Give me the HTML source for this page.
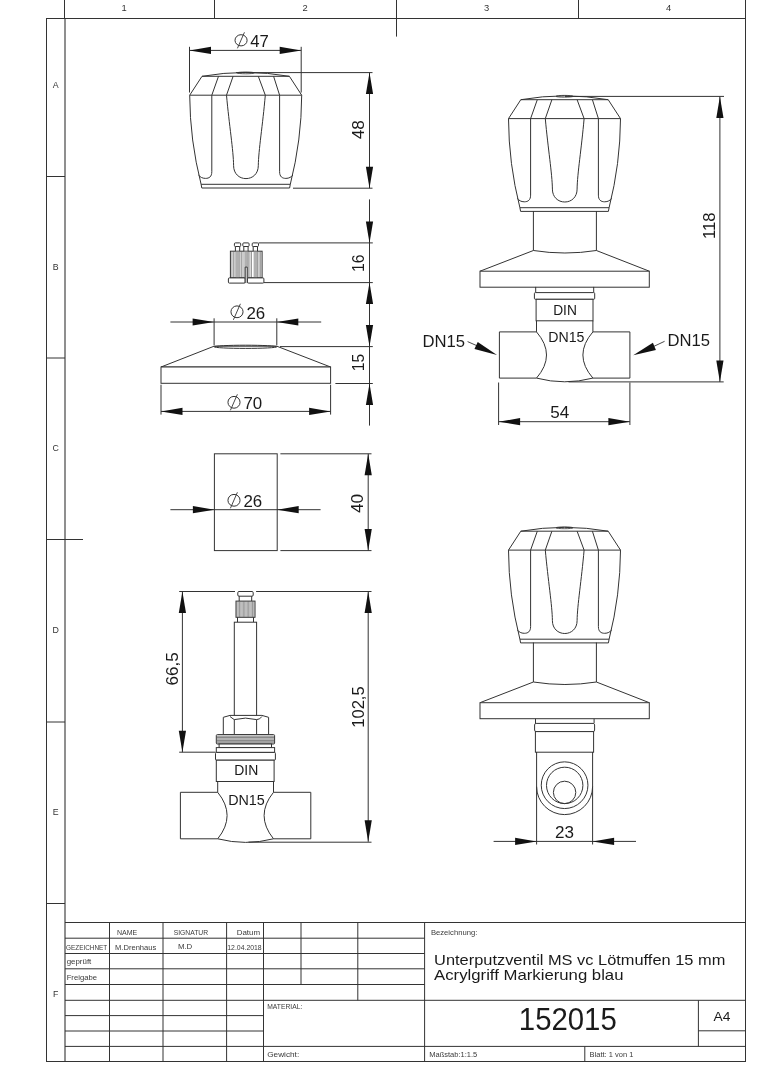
<!DOCTYPE html>
<html><head><meta charset="utf-8"><style>
html,body{margin:0;padding:0;background:#fff;}
svg{display:block;will-change:transform;}
text{font-family:"Liberation Sans",sans-serif;fill:#1a1a1a;stroke:none;}
text.tb{fill:#3a3a3a;}
text.s{fill:#333;}
</style></head><body>
<svg width="764" height="1080" viewBox="0 0 764 1080">
<g fill="none" stroke="#333" stroke-width="1">
<line x1="46.50" y1="18.00" x2="46.50" y2="1062.00"/>
<line x1="46.00" y1="18.50" x2="746.00" y2="18.50" stroke-width="1.2"/>
<line x1="745.50" y1="0.00" x2="745.50" y2="1062.00"/>
<line x1="46.00" y1="1061.50" x2="746.00" y2="1061.50"/>
<line x1="65.00" y1="18.00" x2="65.00" y2="1062.00" stroke-width="1.1"/>
<line x1="64.50" y1="0.00" x2="64.50" y2="18.00"/>
<line x1="214.50" y1="0.00" x2="214.50" y2="18.00"/>
<line x1="396.50" y1="0.00" x2="396.50" y2="18.00"/>
<line x1="578.50" y1="0.00" x2="578.50" y2="18.00"/>
<line x1="396.50" y1="18.00" x2="396.50" y2="36.60"/>
<line x1="46.00" y1="176.50" x2="65.00" y2="176.50"/>
<line x1="46.00" y1="358.00" x2="65.00" y2="358.00"/>
<line x1="46.00" y1="539.50" x2="83.00" y2="539.50"/>
<line x1="46.00" y1="722.00" x2="65.00" y2="722.00"/>
<line x1="46.00" y1="903.50" x2="65.00" y2="903.50"/>
<text class="s" x="124.00" y="11.30" font-size="9.4" text-anchor="middle">1</text>
<text class="s" x="305.00" y="11.30" font-size="9.4" text-anchor="middle">2</text>
<text class="s" x="486.50" y="11.30" font-size="9.4" text-anchor="middle">3</text>
<text class="s" x="668.60" y="11.30" font-size="9.4" text-anchor="middle">4</text>
<text class="s" x="55.60" y="87.80" font-size="8.8" text-anchor="middle">A</text>
<text class="s" x="55.60" y="269.60" font-size="8.8" text-anchor="middle">B</text>
<text class="s" x="55.60" y="451.40" font-size="8.8" text-anchor="middle">C</text>
<text class="s" x="55.60" y="633.20" font-size="8.8" text-anchor="middle">D</text>
<text class="s" x="55.60" y="815.00" font-size="8.8" text-anchor="middle">E</text>
<text class="s" x="55.60" y="996.80" font-size="8.8" text-anchor="middle">F</text>
<line x1="65.00" y1="922.50" x2="746.00" y2="922.50"/>
<line x1="65.00" y1="938.20" x2="424.60" y2="938.20"/>
<line x1="65.00" y1="953.50" x2="424.60" y2="953.50"/>
<line x1="65.00" y1="968.80" x2="424.60" y2="968.80"/>
<line x1="65.00" y1="984.50" x2="424.60" y2="984.50"/>
<line x1="65.00" y1="1000.30" x2="746.00" y2="1000.30"/>
<line x1="65.00" y1="1015.60" x2="263.50" y2="1015.60"/>
<line x1="65.00" y1="1031.00" x2="263.50" y2="1031.00"/>
<line x1="65.00" y1="1046.40" x2="746.00" y2="1046.40"/>
<line x1="109.50" y1="922.50" x2="109.50" y2="1062.00"/>
<line x1="163.00" y1="922.50" x2="163.00" y2="1062.00"/>
<line x1="226.60" y1="922.50" x2="226.60" y2="1062.00"/>
<line x1="263.50" y1="922.50" x2="263.50" y2="1062.00"/>
<line x1="301.00" y1="922.50" x2="301.00" y2="984.50"/>
<line x1="357.80" y1="922.50" x2="357.80" y2="1000.30"/>
<line x1="424.60" y1="922.50" x2="424.60" y2="1062.00"/>
<line x1="698.40" y1="1000.30" x2="698.40" y2="1046.40"/>
<line x1="698.40" y1="1030.80" x2="746.00" y2="1030.80"/>
<line x1="584.80" y1="1046.40" x2="584.80" y2="1062.00"/>
<text class="tb" x="117.00" y="934.70" font-size="7" textLength="20.30" lengthAdjust="spacingAndGlyphs">NAME</text>
<text class="tb" x="173.70" y="934.60" font-size="7" textLength="34.40" lengthAdjust="spacingAndGlyphs">SIGNATUR</text>
<text class="tb" x="236.70" y="934.60" font-size="7" textLength="23.40" lengthAdjust="spacingAndGlyphs">Datum</text>
<text class="tb" x="66.00" y="949.70" font-size="7" textLength="41.20" lengthAdjust="spacingAndGlyphs">GEZEICHNET</text>
<text class="tb" x="115.00" y="949.70" font-size="7" textLength="41.30" lengthAdjust="spacingAndGlyphs">M.Drenhaus</text>
<text class="tb" x="177.90" y="949.40" font-size="7" textLength="14.40" lengthAdjust="spacingAndGlyphs">M.D</text>
<text class="tb" x="227.30" y="950.10" font-size="7" textLength="34.40" lengthAdjust="spacingAndGlyphs">12.04.2018</text>
<text class="tb" x="66.70" y="963.80" font-size="7" textLength="24.60" lengthAdjust="spacingAndGlyphs">geprüft</text>
<text class="tb" x="66.70" y="979.90" font-size="7" textLength="30.30" lengthAdjust="spacingAndGlyphs">Freigabe</text>
<text class="tb" x="267.20" y="1009.30" font-size="7" textLength="35.10" lengthAdjust="spacingAndGlyphs">MATERIAL:</text>
<text class="tb" x="267.20" y="1056.50" font-size="7" textLength="32.00" lengthAdjust="spacingAndGlyphs">Gewicht:</text>
<text class="tb" x="430.90" y="935.40" font-size="6.3" textLength="46.50" lengthAdjust="spacingAndGlyphs">Bezeichnung:</text>
<text class="t" x="434.10" y="965.30" font-size="14.8" textLength="291.20" lengthAdjust="spacingAndGlyphs">Unterputzventil MS vc Lötmuffen 15 mm</text>
<text class="t" x="434.10" y="979.80" font-size="14.8" textLength="189.40" lengthAdjust="spacingAndGlyphs">Acrylgriff Markierung blau</text>
<text class="t" x="518.80" y="1030.00" font-size="31" textLength="98.00" lengthAdjust="spacingAndGlyphs">152015</text>
<text class="t" x="713.60" y="1020.60" font-size="12.8" textLength="16.90" lengthAdjust="spacingAndGlyphs">A4</text>
<text class="tb" x="429.20" y="1056.60" font-size="7" textLength="48.10" lengthAdjust="spacingAndGlyphs">Maßstab:1:1.5</text>
<text class="tb" x="589.60" y="1056.60" font-size="7" textLength="43.70" lengthAdjust="spacingAndGlyphs">Blatt: 1 von 1</text>
<path d="M202.00 76.30Q245.70 68.60 289.40 76.30"/>
<line x1="202.00" y1="76.30" x2="289.40" y2="76.30"/>
<ellipse cx="245.70" cy="72.90" rx="8.5" ry="0.9" stroke-width="0.8"/>
<path d="M202.00 76.30L189.70 95.20L301.70 95.20L289.40 76.30"/>
<path d="M189.70 95.20Q189.90 140.20 201.10 184.30L290.30 184.30Q301.50 140.20 301.70 95.20"/>
<path d="M201.10 184.30L201.80 188.00L289.60 188.00L290.30 184.30"/>
<path d="M218.50 76.30L211.80 95.20L211.80 171.70C211.80 176.70 209.20 178.40 205.50 178.40C202.20 178.40 200.20 177.00 198.40 175.00"/>
<path d="M273.60 76.30L279.60 95.20L279.60 171.70C279.60 176.70 282.20 178.40 285.90 178.40C289.20 178.40 291.20 177.00 293.00 175.00"/>
<path d="M233.10 76.30L226.50 95.20C229.20 125.20 233.40 150.20 233.60 165.70C233.60 173.70 239.20 178.60 246.00 178.60C252.70 178.60 258.30 173.70 258.30 165.70C258.50 150.20 262.70 125.20 265.30 95.20L258.30 76.30"/>
<path d="M520.80 99.70Q564.50 92.00 608.20 99.70"/>
<line x1="520.80" y1="99.70" x2="608.20" y2="99.70"/>
<ellipse cx="564.50" cy="96.30" rx="8.5" ry="0.9" stroke-width="0.8"/>
<path d="M520.80 99.70L508.50 118.60L620.50 118.60L608.20 99.70"/>
<path d="M508.50 118.60Q508.70 163.60 519.90 207.70L609.10 207.70Q620.30 163.60 620.50 118.60"/>
<path d="M519.90 207.70L520.60 211.40L608.40 211.40L609.10 207.70"/>
<path d="M537.30 99.70L530.60 118.60L530.60 195.10C530.60 200.10 528.00 201.80 524.30 201.80C521.00 201.80 519.00 200.40 517.20 198.40"/>
<path d="M592.40 99.70L598.40 118.60L598.40 195.10C598.40 200.10 601.00 201.80 604.70 201.80C608.00 201.80 610.00 200.40 611.80 198.40"/>
<path d="M551.90 99.70L545.30 118.60C548.00 148.60 552.20 173.60 552.40 189.10C552.40 197.10 558.00 202.00 564.80 202.00C571.50 202.00 577.10 197.10 577.10 189.10C577.30 173.60 581.50 148.60 584.10 118.60L577.10 99.70"/>
<path d="M520.80 531.20Q564.50 523.50 608.20 531.20"/>
<line x1="520.80" y1="531.20" x2="608.20" y2="531.20"/>
<ellipse cx="564.50" cy="527.80" rx="8.5" ry="0.9" stroke-width="0.8"/>
<path d="M520.80 531.20L508.50 550.10L620.50 550.10L608.20 531.20"/>
<path d="M508.50 550.10Q508.70 595.10 519.90 639.20L609.10 639.20Q620.30 595.10 620.50 550.10"/>
<path d="M519.90 639.20L520.60 642.90L608.40 642.90L609.10 639.20"/>
<path d="M537.30 531.20L530.60 550.10L530.60 626.60C530.60 631.60 528.00 633.30 524.30 633.30C521.00 633.30 519.00 631.90 517.20 629.90"/>
<path d="M592.40 531.20L598.40 550.10L598.40 626.60C598.40 631.60 601.00 633.30 604.70 633.30C608.00 633.30 610.00 631.90 611.80 629.90"/>
<path d="M551.90 531.20L545.30 550.10C548.00 580.10 552.20 605.10 552.40 620.60C552.40 628.60 558.00 633.50 564.80 633.50C571.50 633.50 577.10 628.60 577.10 620.60C577.30 605.10 581.50 580.10 584.10 550.10L577.10 531.20"/>
<line x1="189.50" y1="46.80" x2="189.50" y2="92.50"/>
<line x1="301.20" y1="46.80" x2="301.20" y2="92.50"/>
<line x1="189.50" y1="50.40" x2="301.20" y2="50.40"/>
<path fill="#111" stroke="none" d="M189.50 50.40L211.00 46.80L211.00 54.00Z"/>
<path fill="#111" stroke="none" d="M301.20 50.40L279.70 54.00L279.70 46.80Z"/>
<ellipse cx="241.05" cy="40.30" rx="6.05" ry="5.60" class="th"/>
<line x1="244.45" y1="32.30" x2="237.45" y2="48.30" stroke-width="0.9"/>
<text class="d" x="250.30" y="46.80" font-size="17" textLength="18.60" lengthAdjust="spacingAndGlyphs">47</text>
<line x1="236.00" y1="72.60" x2="372.50" y2="72.60"/>
<line x1="293.00" y1="188.20" x2="372.50" y2="188.20"/>
<line x1="369.50" y1="72.60" x2="369.50" y2="188.20"/>
<path fill="#111" stroke="none" d="M369.50 72.60L373.10 94.10L365.90 94.10Z"/>
<path fill="#111" stroke="none" d="M369.50 188.20L365.90 166.70L373.10 166.70Z"/>
<text class="d" x="364.40" y="139.30" font-size="17" textLength="19.20" lengthAdjust="spacingAndGlyphs" transform="rotate(-90 364.40 139.30)">48</text>
<line x1="258.60" y1="242.90" x2="372.80" y2="242.90"/>
<line x1="263.90" y1="282.60" x2="372.80" y2="282.60"/>
<line x1="369.50" y1="199.40" x2="369.50" y2="425.60"/>
<path fill="#111" stroke="none" d="M369.50 242.90L365.90 221.40L373.10 221.40Z"/>
<path fill="#111" stroke="none" d="M369.50 282.60L373.10 304.10L365.90 304.10Z"/>
<text class="d" x="364.40" y="272.00" font-size="17" textLength="17.50" lengthAdjust="spacingAndGlyphs" transform="rotate(-90 364.40 272.00)">16</text>
<rect x="234.40" y="242.90" width="6.30" height="3.60" fill="#fff" rx="1"/>
<line x1="235.40" y1="246.50" x2="235.40" y2="251.20"/>
<line x1="239.70" y1="246.50" x2="239.70" y2="251.20"/>
<rect x="242.80" y="242.90" width="6.30" height="3.60" fill="#fff" rx="1"/>
<line x1="243.80" y1="246.50" x2="243.80" y2="251.20"/>
<line x1="248.10" y1="246.50" x2="248.10" y2="251.20"/>
<rect x="252.20" y="242.90" width="6.30" height="3.60" fill="#fff" rx="1"/>
<line x1="253.20" y1="246.50" x2="253.20" y2="251.20"/>
<line x1="257.50" y1="246.50" x2="257.50" y2="251.20"/>
<rect x="230.40" y="251.20" width="31.70" height="26.70" fill="#fff"/>
<rect x="235.80" y="251.7" width="3.6" height="25.7" fill="#b0b0b0" stroke="none"/>
<rect x="244.30" y="251.7" width="3.6" height="25.7" fill="#b0b0b0" stroke="none"/>
<rect x="253.60" y="251.7" width="3.6" height="25.7" fill="#b0b0b0" stroke="none"/>
<line x1="231.90" y1="251.20" x2="231.90" y2="277.90" stroke-width="0.6" stroke="#555"/>
<line x1="233.40" y1="251.20" x2="233.40" y2="277.90" stroke-width="0.6" stroke="#555"/>
<line x1="235.00" y1="251.20" x2="235.00" y2="277.90" stroke-width="0.6" stroke="#555"/>
<line x1="239.90" y1="251.20" x2="239.90" y2="277.90" stroke-width="0.6" stroke="#555"/>
<line x1="241.40" y1="251.20" x2="241.40" y2="277.90" stroke-width="0.6" stroke="#555"/>
<line x1="243.00" y1="251.20" x2="243.00" y2="277.90" stroke-width="0.6" stroke="#555"/>
<line x1="248.30" y1="251.20" x2="248.30" y2="277.90" stroke-width="0.6" stroke="#555"/>
<line x1="249.90" y1="251.20" x2="249.90" y2="277.90" stroke-width="0.6" stroke="#555"/>
<line x1="251.50" y1="251.20" x2="251.50" y2="277.90" stroke-width="0.6" stroke="#555"/>
<line x1="257.60" y1="251.20" x2="257.60" y2="277.90" stroke-width="0.6" stroke="#555"/>
<line x1="259.10" y1="251.20" x2="259.10" y2="277.90" stroke-width="0.6" stroke="#555"/>
<line x1="260.60" y1="251.20" x2="260.60" y2="277.90" stroke-width="0.6" stroke="#555"/>
<rect x="228.40" y="277.90" width="16.80" height="5.20" fill="#fff" rx="1"/>
<rect x="247.50" y="277.90" width="16.40" height="5.20" fill="#fff" rx="1"/>
<path d="M245.2 283.1L245.2 267.1L247.2 267.1L247.2 283.1" fill="#fff"/>
<line x1="214.10" y1="318.30" x2="214.10" y2="345.30"/>
<line x1="276.80" y1="318.30" x2="276.80" y2="345.30"/>
<line x1="170.40" y1="322.00" x2="321.20" y2="322.00"/>
<path fill="#111" stroke="none" d="M214.10 322.00L192.60 325.60L192.60 318.40Z"/>
<path fill="#111" stroke="none" d="M276.80 322.00L298.30 318.40L298.30 325.60Z"/>
<ellipse cx="237.00" cy="311.80" rx="6.05" ry="5.90" class="th"/>
<line x1="240.40" y1="303.80" x2="233.40" y2="319.80" stroke-width="0.9"/>
<text class="d" x="246.40" y="318.80" font-size="17" textLength="18.80" lengthAdjust="spacingAndGlyphs">26</text>
<path d="M214.1 346.2L161 367L330.6 367L276.8 346.2Z" fill="#fff"/>
<ellipse cx="245.5" cy="346.8" rx="31.3" ry="1.6" class="th"/>
<rect x="161.00" y="367.00" width="169.60" height="16.30" fill="#fff"/>
<line x1="280.00" y1="346.60" x2="372.80" y2="346.60"/>
<line x1="335.40" y1="383.50" x2="372.80" y2="383.50"/>
<path fill="#111" stroke="none" d="M369.50 346.60L365.90 325.10L373.10 325.10Z"/>
<path fill="#111" stroke="none" d="M369.50 383.50L373.10 405.00L365.90 405.00Z"/>
<text class="d" x="364.40" y="371.20" font-size="17" textLength="17.40" lengthAdjust="spacingAndGlyphs" transform="rotate(-90 364.40 371.20)">15</text>
<line x1="161.00" y1="384.70" x2="161.00" y2="414.60"/>
<line x1="330.60" y1="384.70" x2="330.60" y2="414.60"/>
<line x1="161.00" y1="411.40" x2="330.60" y2="411.40"/>
<path fill="#111" stroke="none" d="M161.00 411.40L182.50 407.80L182.50 415.00Z"/>
<path fill="#111" stroke="none" d="M330.60 411.40L309.10 415.00L309.10 407.80Z"/>
<ellipse cx="234.00" cy="402.30" rx="6.05" ry="5.90" class="th"/>
<line x1="237.40" y1="394.30" x2="230.40" y2="410.30" stroke-width="0.9"/>
<text class="d" x="243.40" y="408.90" font-size="17" textLength="18.80" lengthAdjust="spacingAndGlyphs">70</text>
<rect x="214.40" y="453.80" width="62.80" height="96.80" fill="#fff"/>
<line x1="280.40" y1="453.80" x2="371.50" y2="453.80"/>
<line x1="280.40" y1="550.60" x2="371.50" y2="550.60"/>
<line x1="368.20" y1="453.80" x2="368.20" y2="550.60"/>
<path fill="#111" stroke="none" d="M368.20 453.80L371.80 475.30L364.60 475.30Z"/>
<path fill="#111" stroke="none" d="M368.20 550.60L364.60 529.10L371.80 529.10Z"/>
<text class="d" x="363.10" y="513.00" font-size="17" textLength="19.20" lengthAdjust="spacingAndGlyphs" transform="rotate(-90 363.10 513.00)">40</text>
<line x1="170.40" y1="509.70" x2="320.60" y2="509.70"/>
<path fill="#111" stroke="none" d="M214.40 509.70L192.90 513.30L192.90 506.10Z"/>
<path fill="#111" stroke="none" d="M277.20 509.70L298.70 506.10L298.70 513.30Z"/>
<ellipse cx="234.00" cy="500.30" rx="6.05" ry="5.90" class="th"/>
<line x1="237.40" y1="492.30" x2="230.40" y2="508.30" stroke-width="0.9"/>
<text class="d" x="243.40" y="507.20" font-size="17" textLength="18.80" lengthAdjust="spacingAndGlyphs">26</text>
<line x1="179.20" y1="591.50" x2="235.00" y2="591.50"/>
<line x1="256.10" y1="591.50" x2="371.50" y2="591.50"/>
<line x1="182.40" y1="591.50" x2="182.40" y2="752.20"/>
<path fill="#111" stroke="none" d="M182.40 591.50L186.00 613.00L178.80 613.00Z"/>
<path fill="#111" stroke="none" d="M182.40 752.20L178.80 730.70L186.00 730.70Z"/>
<line x1="179.20" y1="752.20" x2="215.50" y2="752.20"/>
<text class="d" x="177.90" y="685.50" font-size="17" textLength="33.40" lengthAdjust="spacingAndGlyphs" transform="rotate(-90 177.90 685.50)">66,5</text>
<line x1="368.20" y1="591.50" x2="368.20" y2="841.80"/>
<path fill="#111" stroke="none" d="M368.20 591.50L371.80 613.00L364.60 613.00Z"/>
<path fill="#111" stroke="none" d="M368.20 841.80L364.60 820.30L371.80 820.30Z"/>
<line x1="248.50" y1="842.20" x2="371.50" y2="842.20"/>
<text class="d" x="363.90" y="727.80" font-size="17" textLength="41.50" lengthAdjust="spacingAndGlyphs" transform="rotate(-90 363.90 727.80)">102,5</text>
<rect x="237.80" y="591.50" width="15.40" height="4.70" fill="#fff" rx="1.2"/>
<line x1="239.20" y1="596.20" x2="239.20" y2="601.10"/>
<line x1="251.70" y1="596.20" x2="251.70" y2="601.10"/>
<rect x="236.00" y="601.10" width="19.00" height="16.20" fill="#fff"/>
<line x1="236.90" y1="601.10" x2="236.90" y2="617.30" stroke-width="0.6" stroke="#555"/>
<line x1="238.20" y1="601.10" x2="238.20" y2="617.30" stroke-width="0.6" stroke="#555"/>
<line x1="239.50" y1="601.10" x2="239.50" y2="617.30" stroke-width="0.6" stroke="#555"/>
<line x1="240.80" y1="601.10" x2="240.80" y2="617.30" stroke-width="0.6" stroke="#555"/>
<line x1="242.10" y1="601.10" x2="242.10" y2="617.30" stroke-width="0.6" stroke="#555"/>
<line x1="243.40" y1="601.10" x2="243.40" y2="617.30" stroke-width="0.6" stroke="#555"/>
<line x1="244.70" y1="601.10" x2="244.70" y2="617.30" stroke-width="0.6" stroke="#555"/>
<line x1="246.00" y1="601.10" x2="246.00" y2="617.30" stroke-width="0.6" stroke="#555"/>
<line x1="247.30" y1="601.10" x2="247.30" y2="617.30" stroke-width="0.6" stroke="#555"/>
<line x1="248.60" y1="601.10" x2="248.60" y2="617.30" stroke-width="0.6" stroke="#555"/>
<line x1="249.90" y1="601.10" x2="249.90" y2="617.30" stroke-width="0.6" stroke="#555"/>
<line x1="251.20" y1="601.10" x2="251.20" y2="617.30" stroke-width="0.6" stroke="#555"/>
<line x1="252.50" y1="601.10" x2="252.50" y2="617.30" stroke-width="0.6" stroke="#555"/>
<line x1="253.80" y1="601.10" x2="253.80" y2="617.30" stroke-width="0.6" stroke="#555"/>
<line x1="237.50" y1="617.30" x2="237.50" y2="622.20"/>
<line x1="253.50" y1="617.30" x2="253.50" y2="622.20"/>
<rect x="234.30" y="622.20" width="22.30" height="94.00" fill="#fff"/>
<path d="M223.3 734.6L223.3 717.3L230 715.4L261.9 715.4L268.6 717.3L268.6 734.6Z" fill="#fff"/>
<path d="M230 716.5Q234 719.6 234.3 719.6Q245.5 716.6 256.6 719.6Q260 719.6 261.9 716.5"/>
<line x1="234.30" y1="719.60" x2="234.30" y2="734.60"/>
<line x1="256.60" y1="719.60" x2="256.60" y2="734.60"/>
<rect x="216.30" y="734.60" width="58.30" height="9.40" fill="#fff" rx="1"/>
<line x1="216.80" y1="736.20" x2="274.10" y2="736.20" stroke-width="0.7" stroke="#444"/>
<line x1="216.80" y1="737.60" x2="274.10" y2="737.60" stroke-width="0.7" stroke="#444"/>
<line x1="216.80" y1="739.00" x2="274.10" y2="739.00" stroke-width="0.7" stroke="#444"/>
<line x1="216.80" y1="740.40" x2="274.10" y2="740.40" stroke-width="0.7" stroke="#444"/>
<line x1="216.80" y1="741.80" x2="274.10" y2="741.80" stroke-width="0.7" stroke="#444"/>
<line x1="216.80" y1="743.00" x2="274.10" y2="743.00" stroke-width="0.7" stroke="#444"/>
<rect x="219.10" y="744.00" width="52.40" height="3.60" fill="#fff"/>
<rect x="216.30" y="747.60" width="58.30" height="4.80" fill="#fff"/>
<rect x="215.50" y="752.40" width="59.90" height="7.80" fill="#fff" rx="1"/>
<rect x="216.30" y="760.20" width="57.80" height="21.30" fill="#fff"/>
<text class="d" x="234.30" y="775.30" font-size="14.2" textLength="24.00" lengthAdjust="spacingAndGlyphs">DIN</text>
<line x1="217.70" y1="781.50" x2="217.70" y2="792.30"/>
<line x1="273.50" y1="781.50" x2="273.50" y2="792.30"/>
<path d="M217.7 792.3L180.4 792.3L180.4 838.8L217.7 838.8"/>
<path d="M273.5 792.3L310.8 792.3L310.8 838.8L273.5 838.8"/>
<path d="M217.7 792.3Q236.5 815.5 217.7 838.8"/>
<path d="M273.5 792.3Q254.7 815.5 273.5 838.8"/>
<path d="M217.7 838.8Q245.6 846 273.5 838.8"/>
<text class="d" x="228.20" y="804.90" font-size="14.4" textLength="36.60" lengthAdjust="spacingAndGlyphs">DN15</text>
<path d="M533.4 211.00L533.4 250.50Q564.9 255.50 596.4 250.50L596.4 211.00"/>
<path d="M533.4 250.50L480 271.20M596.4 250.50L649.3 271.20"/>
<rect x="480.00" y="271.20" width="169.30" height="16.00" fill="#fff"/>
<path d="M533.4 642.50L533.4 682.00Q564.9 687.00 596.4 682.00L596.4 642.50"/>
<path d="M533.4 682.00L480 702.70M596.4 682.00L649.3 702.70"/>
<rect x="480.00" y="702.70" width="169.30" height="16.00" fill="#fff"/>
<line x1="535.70" y1="286.90" x2="535.70" y2="292.60"/>
<line x1="593.70" y1="286.90" x2="593.70" y2="292.60"/>
<rect x="534.40" y="292.60" width="60.30" height="6.70" fill="#fff" rx="1"/>
<rect x="536.10" y="299.30" width="56.90" height="21.50" fill="#fff"/>
<text class="d" x="553.20" y="314.70" font-size="14.2" textLength="23.70" lengthAdjust="spacingAndGlyphs">DIN</text>
<line x1="536.50" y1="320.80" x2="536.50" y2="331.90"/>
<line x1="592.90" y1="320.80" x2="592.90" y2="331.90"/>
<path d="M536.5 331.9L499.4 331.9L499.4 378.1L536.5 378.1"/>
<path d="M592.9 331.9L629.9 331.9L629.9 378.1L592.9 378.1"/>
<path d="M536.5 331.9Q556.5 355 536.5 378.1"/>
<path d="M592.9 331.9Q572.9 355 592.9 378.1"/>
<path d="M536.5 378.1Q564.7 385.5 592.9 378.1"/>
<text class="d" x="548.30" y="341.90" font-size="14.4" textLength="36.20" lengthAdjust="spacingAndGlyphs">DN15</text>
<text class="d" x="422.40" y="346.80" font-size="16.5" textLength="42.60" lengthAdjust="spacingAndGlyphs">DN15</text>
<line x1="467.60" y1="341.60" x2="478.00" y2="346.20" stroke-width="0.9"/>
<path fill="#111" stroke="none" d="M497.00 355.10L474.47 349.05L477.73 341.96Z"/>
<text class="d" x="667.50" y="345.90" font-size="16.5" textLength="42.50" lengthAdjust="spacingAndGlyphs">DN15</text>
<line x1="664.60" y1="341.30" x2="654.00" y2="346.30" stroke-width="0.9"/>
<path fill="#111" stroke="none" d="M633.20 355.30L652.89 342.79L655.91 349.98Z"/>
<line x1="565.00" y1="96.40" x2="724.00" y2="96.40"/>
<line x1="568.50" y1="381.90" x2="723.70" y2="381.90"/>
<line x1="719.90" y1="96.40" x2="719.90" y2="381.90"/>
<path fill="#111" stroke="none" d="M719.90 96.40L723.50 117.90L716.30 117.90Z"/>
<path fill="#111" stroke="none" d="M719.90 381.90L716.30 360.40L723.50 360.40Z"/>
<text class="d" x="714.60" y="239.00" font-size="17" textLength="26.50" lengthAdjust="spacingAndGlyphs" transform="rotate(-90 714.60 239.00)">118</text>
<line x1="498.60" y1="382.50" x2="498.60" y2="425.00"/>
<line x1="629.90" y1="382.50" x2="629.90" y2="425.00"/>
<line x1="498.60" y1="421.70" x2="629.90" y2="421.70"/>
<path fill="#111" stroke="none" d="M498.60 421.70L520.10 418.10L520.10 425.30Z"/>
<path fill="#111" stroke="none" d="M629.90 421.70L608.40 425.30L608.40 418.10Z"/>
<text class="d" x="550.20" y="418.30" font-size="17" textLength="19.00" lengthAdjust="spacingAndGlyphs">54</text>
<line x1="535.50" y1="718.80" x2="535.50" y2="723.00"/>
<line x1="594.10" y1="718.80" x2="594.10" y2="723.00"/>
<rect x="534.60" y="723.40" width="60.00" height="8.20" fill="#fff" rx="1.5"/>
<rect x="535.40" y="731.60" width="58.20" height="20.60" fill="#fff"/>
<line x1="536.60" y1="752.00" x2="536.60" y2="844.50"/>
<line x1="592.60" y1="752.00" x2="592.60" y2="844.50"/>
<path d="M536.6 786.6A28 28 0 0 0 592.6 786.6"/>
<circle cx="564.6" cy="785.2" r="23.35" class="th"/>
<circle cx="564.7" cy="785.4" r="18.2" class="th"/>
<circle cx="564.6" cy="792.4" r="11.2" class="th"/>
<line x1="493.60" y1="841.40" x2="636.00" y2="841.40"/>
<path fill="#111" stroke="none" d="M536.60 841.40L515.10 845.00L515.10 837.80Z"/>
<path fill="#111" stroke="none" d="M592.60 841.40L614.10 837.80L614.10 845.00Z"/>
<text class="d" x="555.00" y="837.90" font-size="17" textLength="19.00" lengthAdjust="spacingAndGlyphs">23</text>
</g>
</svg>
</body></html>
